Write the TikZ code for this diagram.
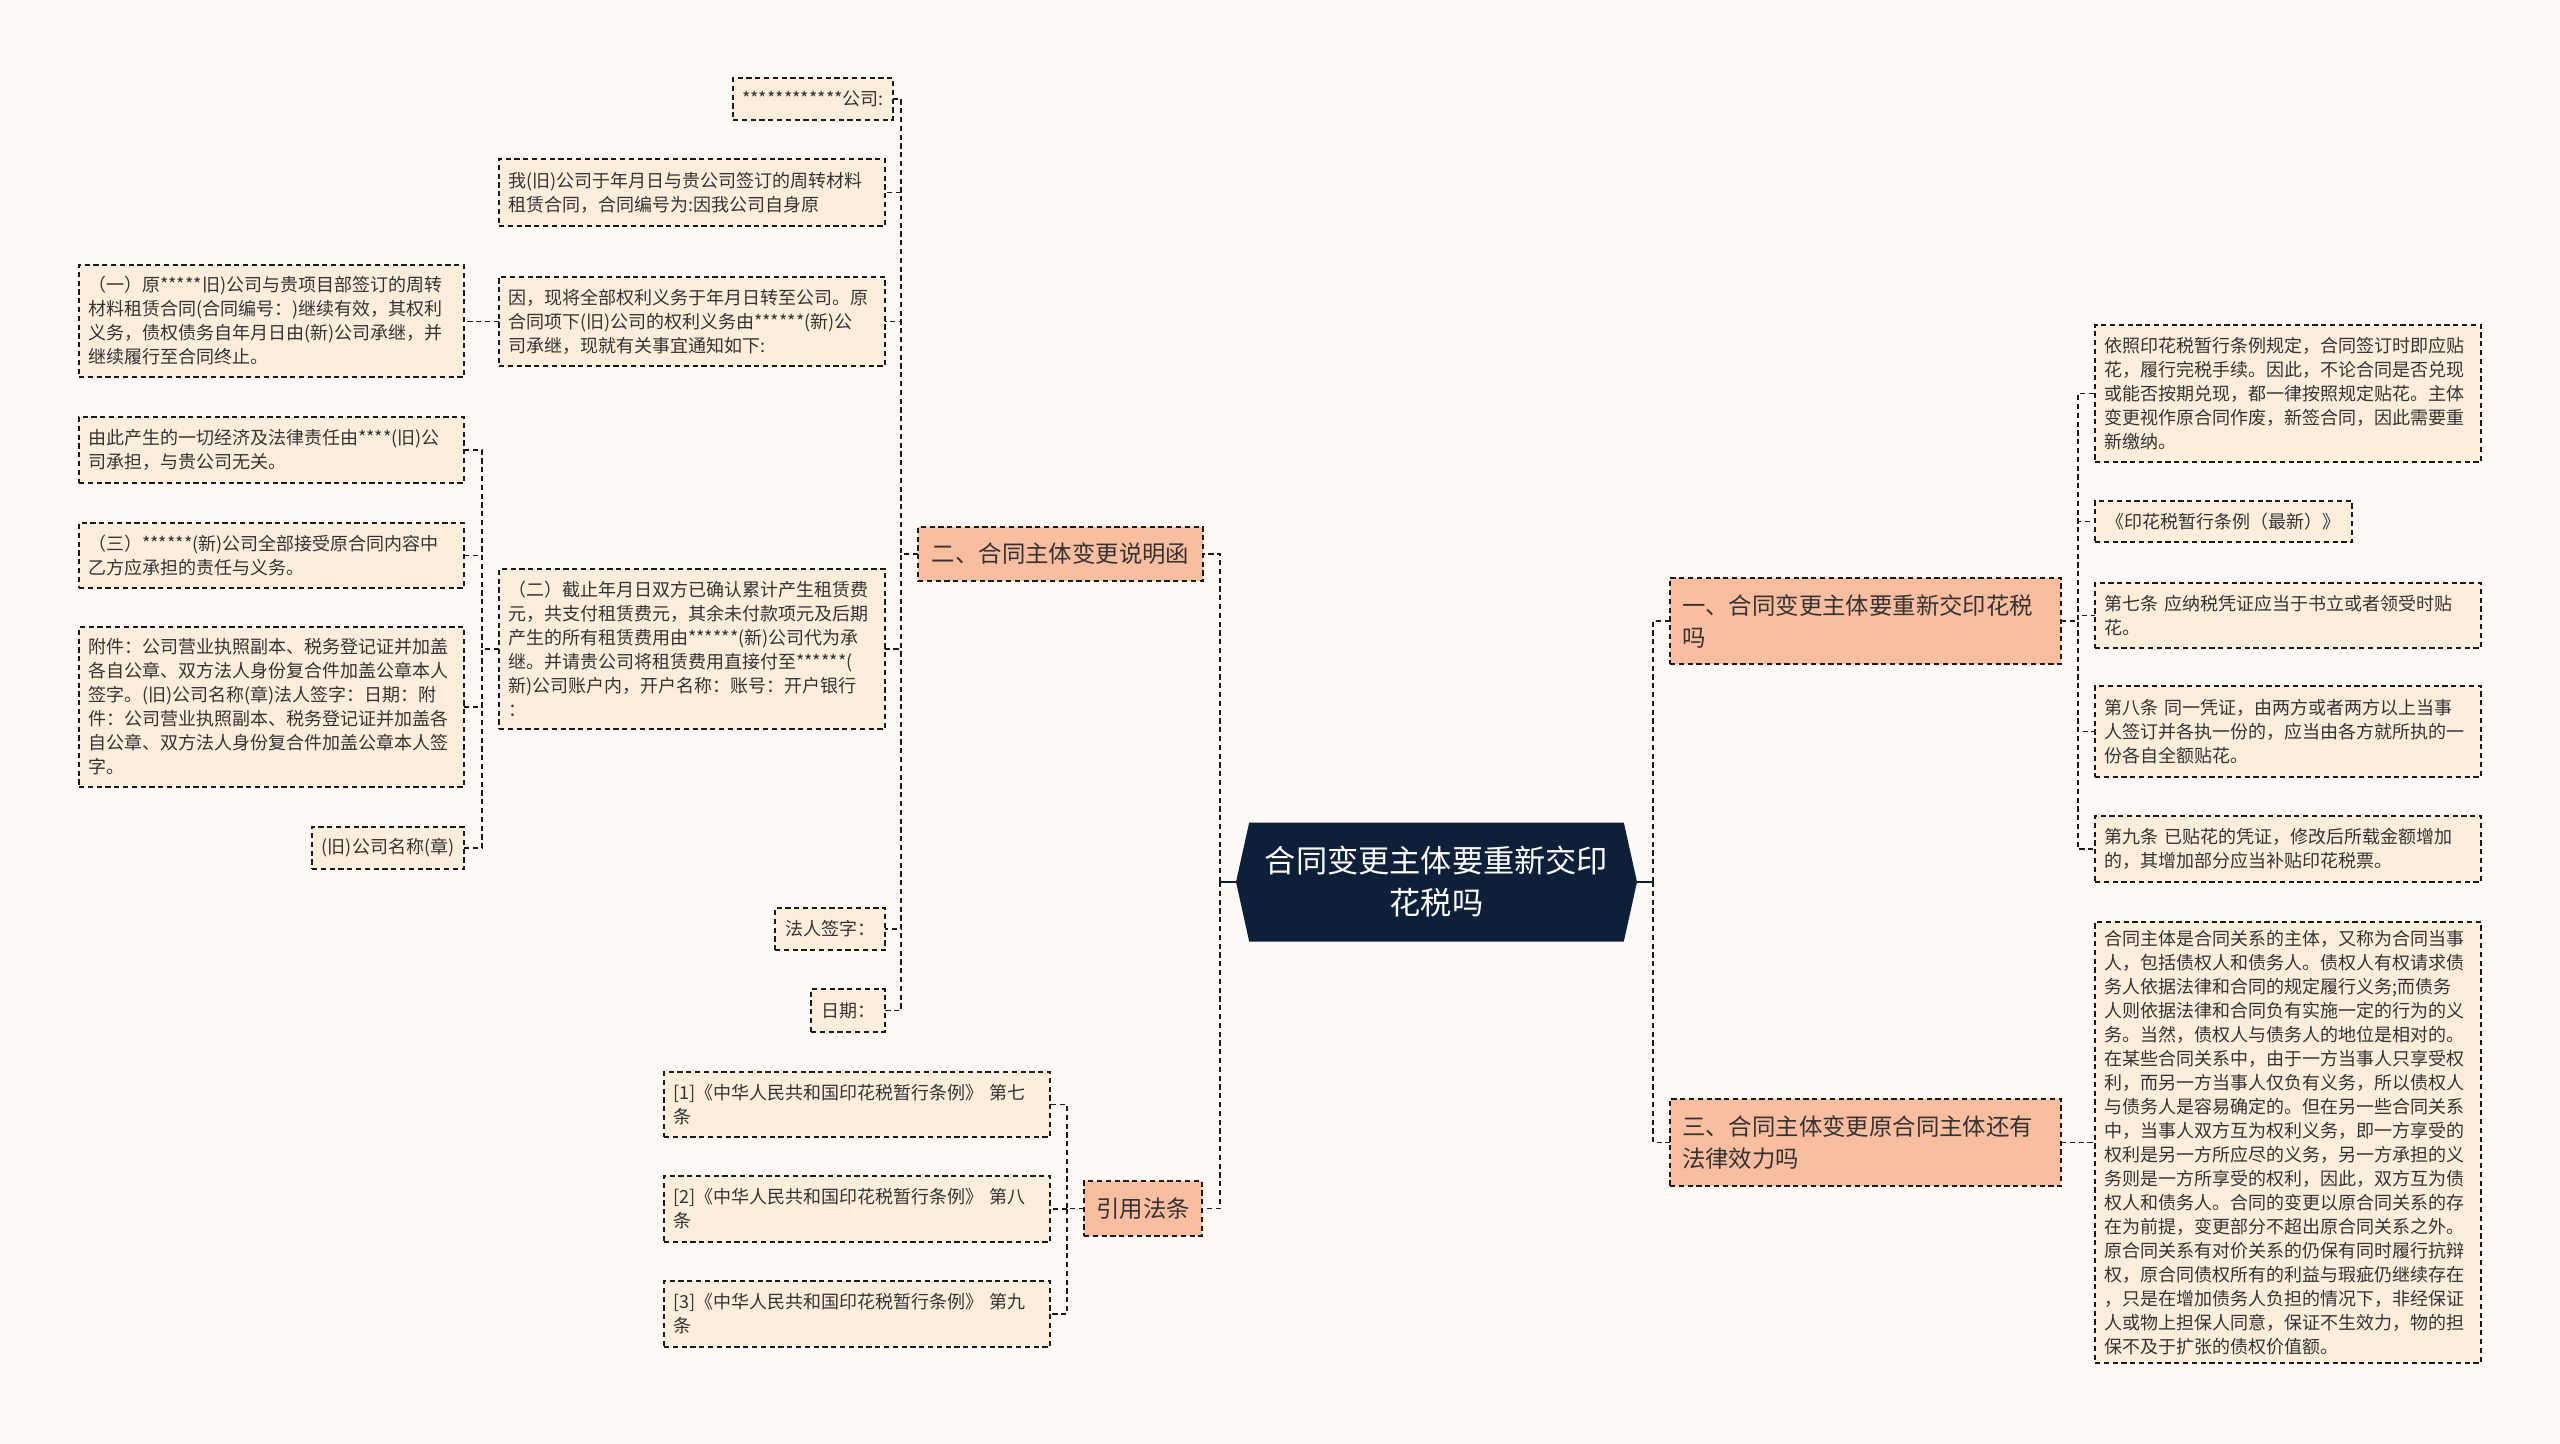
\documentclass[tikz,border=0pt]{standalone}
\usepackage{fontspec}
\setmainfont{Noto Sans CJK SC}
\usetikzlibrary{shapes.symbols}

\begin{document}
\begin{tikzpicture}[x=0.5pt, y=-0.5pt,
    box/.style={draw=lineColour, line width=0.85pt, dash pattern=on 2.6pt off 1.8pt,
        anchor=north west, outer sep=0pt, inner xsep=4.5pt, inner ysep=3pt, text=textColour},
    leaf/.style={box, fill=leafColour, align=left, text width=184pt, font=\fontsize{9}{12}\selectfont},
    tag/.style={box, fill=leafColour, align=center, font=\fontsize{9}{12}\selectfont},
    branch/.style={box, fill=branchColour, align=left, inner xsep=6pt, font=\fontsize{11.7}{16}\selectfont},
    root/.style={shape=signal, signal to=west and east, signal pointer angle=155,
        fill=rootColour, text=white, align=center, minimum width=200.5pt, minimum height=59.5pt,
        inner sep=2pt, outer sep=0pt, font=\fontsize{15.6}{21}\selectfont},
    link/.style={draw=lineColour, line width=0.85pt, dash pattern=on 2.6pt off 1.8pt},
    rootlink/.style={draw=rootColour, line width=1pt}]

    % Define colours
    \definecolor{bgColour}{HTML}{FDFAF7}
    \definecolor{leafColour}{HTML}{FDEEDC}
    \definecolor{branchColour}{HTML}{F9BE9F}
    \definecolor{rootColour}{HTML}{0E1F3A}
    \definecolor{lineColour}{HTML}{1A1A1A}
    \definecolor{textColour}{HTML}{333333}

    % Draw background
    \fill[bgColour] (0,0) rectangle (2560,1444);
    \useasboundingbox (0,0) rectangle (2560,1444);

    % Draw root
    \node[root] (root) at (1436.5,882) {合同变更主体要重新交印\\花税吗};

    % Draw branch two and its leaves
    \node[branch, align=center, minimum width=142.5pt, minimum height=27pt] (er) at (918,527) {二、合同主体变更说明函};
    \node[tag, minimum width=76pt, minimum height=21pt] (A) at (733,78) {************公司:};
    \node[leaf, minimum height=33.5pt] (B) at (499,159) {我(旧)公司于年月日与贵公司签订的周转材料\\租赁合同，合同编号为:因我公司自身原};
    \node[leaf, minimum height=44.5pt] (C) at (499,277) {因，现将全部权利义务于年月日转至公司。原\\合同项下(旧)公司的权利义务由******(新)公\\司承继，现就有关事宜通知如下:};
    \node[leaf, text width=183.5pt, minimum height=56pt] (D) at (79,265) {（一）原*****旧)公司与贵项目部签订的周转\\材料租赁合同(合同编号：)继续有效，其权利\\义务，债权债务自年月日由(新)公司承继，并\\继续履行至合同终止。};
    \node[leaf, text width=183.5pt, minimum height=33pt] (E) at (79,417) {由此产生的一切经济及法律责任由****(旧)公\\司承担，与贵公司无关。};
    \node[leaf, text width=183.5pt, minimum height=32.5pt] (F) at (79,523) {（三）******(新)公司全部接受原合同内容中\\乙方应承担的责任与义务。};
    \node[leaf, text width=183.5pt, minimum height=80pt] (G) at (79,627) {附件：公司营业执照副本、税务登记证并加盖\\各自公章、双方法人身份复合件加盖公章本人\\签字。(旧)公司名称(章)法人签字：日期：附\\件：公司营业执照副本、税务登记证并加盖各\\自公章、双方法人身份复合件加盖公章本人签\\字。};
    \node[leaf, minimum height=80pt] (H) at (499,569) {（二）截止年月日双方已确认累计产生租赁费\\元，共支付租赁费元，其余未付款项元及后期\\产生的所有租赁费用由******(新)公司代为承\\继。并请贵公司将租赁费用直接付至******(\\新)公司账户内，开户名称：账号：开户银行\\：};
    \node[tag, minimum width=76pt, minimum height=21pt] (I) at (312,827) {(旧)公司名称(章)};
    \node[tag, minimum width=55pt, minimum height=21pt] (J) at (775,908) {法人签字：};
    \node[tag, minimum width=37pt, minimum height=21.5pt] (K) at (811,989) {日期：};

    % Draw cited articles branch
    \node[branch, align=center, minimum width=59pt, minimum height=27.5pt] (yy) at (1084,1181) {引用法条};
    \node[leaf, minimum height=32.5pt] (L1) at (664,1072) {[1]《中华人民共和国印花税暂行条例》~第七\\条};
    \node[leaf, minimum height=33pt] (L2) at (664,1176) {[2]《中华人民共和国印花税暂行条例》~第八\\条};
    \node[leaf, minimum height=33pt] (L3) at (664,1281) {[3]《中华人民共和国印花税暂行条例》~第九\\条};

    % Draw branch one and its leaves
    \node[branch, text width=183.5pt, minimum height=43pt] (yi) at (1670,578) {一、合同变更主体要重新交印花税\\吗};
    \node[leaf, minimum height=68.5pt] (R1) at (2095,325) {依照印花税暂行条例规定，合同签订时即应贴\\花，履行完税手续。因此，不论合同是否兑现\\或能否按期兑现，都一律按照规定贴花。主体\\变更视作原合同作废，新签合同，因此需要重\\新缴纳。};
    \node[tag, minimum width=128.5pt, minimum height=20.5pt] (R2) at (2095,501) {《印花税暂行条例（最新）》};
    \node[leaf, minimum height=32.5pt] (R3) at (2095,583) {第七条~应纳税凭证应当于书立或者领受时贴\\花。};
    \node[leaf, minimum height=45.5pt] (R4) at (2095,686) {第八条~同一凭证，由两方或者两方以上当事\\人签订并各执一份的，应当由各方就所执的一\\份各自全额贴花。};
    \node[leaf, minimum height=33pt] (R5) at (2095,816) {第九条~已贴花的凭证，修改后所载金额增加\\的，其增加部分应当补贴印花税票。};

    % Draw branch three and its leaf
    \node[branch, text width=183.5pt, minimum height=43.5pt] (san) at (1670,1099) {三、合同主体变更原合同主体还有\\法律效力吗};
    \node[leaf, minimum height=220.5pt] (R6) at (2095,922) {合同主体是合同关系的主体，又称为合同当事\\人，包括债权人和债务人。债权人有权请求债\\务人依据法律和合同的规定履行义务;而债务\\人则依据法律和合同负有实施一定的行为的义\\务。当然，债权人与债务人的地位是相对的。\\在某些合同关系中，由于一方当事人只享受权\\利，而另一方当事人仅负有义务，所以债权人\\与债务人是容易确定的。但在另一些合同关系\\中，当事人双方互为权利义务，即一方享受的\\权利是另一方所应尽的义务，另一方承担的义\\务则是一方所享受的权利，因此，双方互为债\\权人和债务人。合同的变更以原合同关系的存\\在为前提，变更部分不超出原合同关系之外。\\原合同关系有对价关系的仍保有同时履行抗辩\\权，原合同债权所有的利益与瑕疵仍继续存在\\，只是在增加债务人负担的情况下，非经保证\\人或物上担保人同意，保证不生效力，物的担\\保不及于扩张的债权价值额。};

    % Connect root to branches
    \draw[rootlink] (root.west) -- ++(-16,0) coordinate (rootL);
    \draw[rootlink] (root.east) -- ++(16,0) coordinate (rootR);
    \foreach \n in {er,yy}
        \draw[link] (rootL) |- (\n.east);
    \foreach \n in {yi,san}
        \draw[link] (rootR) |- (\n.west);

    % Connect branches to leaves
    \foreach \n in {A,B,C,H,J,K}
        \draw[link] (er.west) -- ++(-17,0) |- (\n.east);
    \draw[link] (C.west) -- (D.east |- C.west);
    \foreach \n in {E,F,G,I}
        \draw[link] (H.west) -- ++(-17,0) |- (\n.east);
    \foreach \n in {L1,L2,L3}
        \draw[link] (yy.west) -- ++(-17,0) |- (\n.east);
    \foreach \n in {R1,R2,R3,R4,R5}
        \draw[link] (yi.east) -- ++(17,0) |- (\n.west);
    \draw[link] (san.east) -- ++(17,0) |- (R6.west);

\end{tikzpicture}
\end{document}
